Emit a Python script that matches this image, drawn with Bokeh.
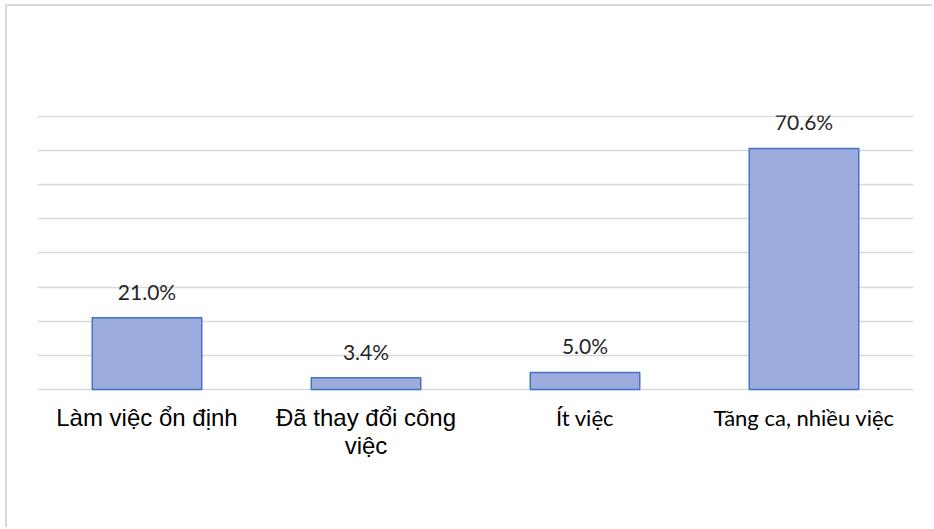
from bokeh.plotting import figure
from bokeh.models import ColumnDataSource, LabelSet, Range1d, FactorRange
from bokeh.core.properties import value
from bokeh.embed import file_html
from bokeh.resources import INLINE

categories = ["Làm việc ổn định", "Đã thay đổi công\nviệc", "Ít việc", "Tăng ca, nhiều việc"]
values = [21.0, 3.4, 5.0, 70.6]
value_labels = ["21.0%", "3.4%", "5.0%", "70.6%"]
y_ticks = [0, 10, 20, 30, 40, 50, 60, 70, 80]
label_group = ["arial", "arial", "calibri", "calibri"]

src = ColumnDataSource(dict(cat=categories, val=values, lab=value_labels))

# frame extends below 0 so the category labels sit inside it
p = figure(width=927, height=523, x_range=FactorRange(*categories),
           y_range=Range1d(-25.2, 80.25), output_backend="svg", toolbar_location=None,
           min_border_left=30, min_border_right=21, min_border_top=109,
           min_border_bottom=54)
p.styles = {"margin-left": "5px", "margin-top": "4px",
            "border-left": "2px solid #d9d9d9", "border-top": "2px solid #d9d9d9"}
p.outline_line_color = None
p.background_fill_color = "white"
p.border_fill_color = "white"

p.vbar(x="cat", top="val", bottom=0, width=0.5, source=src,
       fill_color="#9bacdd", line_color="#4472c4", line_width=1.5)

p.xaxis.visible = False
p.yaxis.visible = False
p.xgrid.grid_line_color = None
p.ygrid.ticker = y_ticks
p.ygrid.grid_line_color = "#d9d9d9"
p.ygrid.grid_line_width = 1.5

p.add_layout(LabelSet(x="cat", y="val", text="lab", source=src, y_offset=18,
                      text_align="center", text_baseline="alphabetic",
                      text_font=value("Lato"), text_font_size=value("21px"),
                      text_color="#262626"))

# category labels, one row per text line, each line centred
rows = {"arial": dict(cat=[], line=[], zero=[], off=[]),
        "calibri": dict(cat=[], line=[], zero=[], off=[])}
for cat, grp in zip(categories, label_group):
    for j, line in enumerate(cat.split("\n")):
        r = rows[grp]
        r["cat"].append(cat)
        r["line"].append(line)
        r["zero"].append(0)
        r["off"].append(-37 - 28 * j)

p.add_layout(LabelSet(x="cat", y="zero", text="line", y_offset="off",
                      source=ColumnDataSource(rows["arial"]),
                      text_align="center", text_baseline="alphabetic",
                      text_font=value("Liberation Sans"), text_font_size=value("24px"),
                      text_color="#000000"))
p.add_layout(LabelSet(x="cat", y="zero", text="line", y_offset="off",
                      source=ColumnDataSource(rows["calibri"]),
                      text_align="center", text_baseline="alphabetic",
                      text_font=value("Lato"), text_font_size=value("22px"),
                      text_color="#000000"))

open("out.html", "w").write(file_html(p, INLINE))
